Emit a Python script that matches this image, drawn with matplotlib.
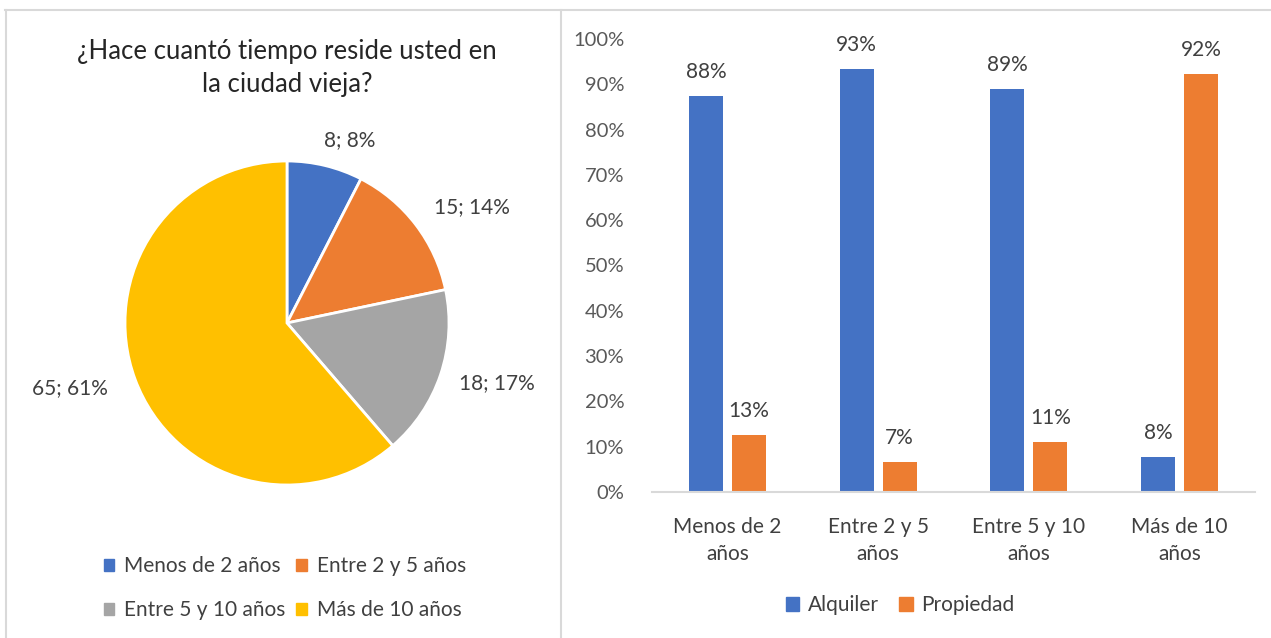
import matplotlib
matplotlib.use("Agg")
import matplotlib.pyplot as plt
from matplotlib.lines import Line2D
from matplotlib.patches import Patch
import numpy as np

plt.rcParams['font.family'] = ['Lato', 'DejaVu Sans']

# ---- data ----
pie_title = "¿Hace cuantó tiempo reside usted en\nla ciudad vieja?"
pie_labels = ["Menos de 2 años", "Entre 2 y 5 años", "Entre 5 y 10 años", "Más de 10 años"]
pie_counts = [8, 15, 18, 65]
pie_pcts = [8, 14, 17, 61]
pie_colors = ["#4472C4", "#ED7D31", "#A5A5A5", "#FFC000"]

bar_categories = ["Menos de 2\naños", "Entre 2 y 5\naños", "Entre 5 y 10\naños", "Más de 10\naños"]
alquiler = [0.875, 0.933, 0.889, 0.077]
propiedad = [0.125, 0.067, 0.111, 0.923]
series_names = ["Alquiler", "Propiedad"]
series_colors = ["#4472C4", "#ED7D31"]
yticks = [0, 0.1, 0.2, 0.3, 0.4, 0.5, 0.6, 0.7, 0.8, 0.9, 1.0]

W, H = 1271, 638
fig = plt.figure(figsize=(W / 100, H / 100), dpi=100)
fig.patch.set_facecolor("white")

def px_axes(x0, y0, x1, y1):
    return fig.add_axes([x0 / W, 1 - y1 / H, (x1 - x0) / W, (y1 - y0) / H])

# panel borders
border = "#D9D9D9"
fig.add_artist(Line2D([5 / W, 1], [1 - 10 / H] * 2, color=border, lw=1.5, transform=fig.transFigure))
fig.add_artist(Line2D([6 / W] * 2, [0, 1 - 10 / H], color=border, lw=1.5, transform=fig.transFigure))
fig.add_artist(Line2D([561 / W] * 2, [0, 1 - 10 / H], color=border, lw=1.5, transform=fig.transFigure))

# ---- pie ----
cx, cy, r = 287, 323, 162
half = 210
axp = px_axes(cx - half, cy - half, cx + half, cy + half)
wedges, _ = axp.pie(pie_counts, colors=pie_colors, startangle=90, counterclock=False,
                    radius=1.0, wedgeprops=dict(edgecolor="white", linewidth=2))
lim = half / r
axp.set_xlim(-lim, lim)
axp.set_ylim(-lim, lim)
axp.set_aspect("equal")
axp.axis("off")

# pie data labels (outside end)
label_pos_px = [(350, 140), (472, 207), (497, 383), (70, 388)]
for (lx, ly), c, p in zip(label_pos_px, pie_counts, pie_pcts):
    fig.text(lx / W, 1 - ly / H, f"{c}; {p}%", ha="center", va="center",
             fontsize=15, color="#404040")

fig.text(287 / W, 1 - 68 / H, pie_title, ha="center", va="center", fontsize=18.5,
         color="#262626", linespacing=1.38)

order = [0, 2, 1, 3]
handles = [Patch(color=pie_colors[i], label=pie_labels[i]) for i in order]
fig.legend(handles=handles, loc="center", bbox_to_anchor=(285 / W, 1 - 588 / H), ncol=2,
           frameon=False, fontsize=15, handlelength=0.5, handleheight=0.5, handletextpad=0.5,
           columnspacing=0.5, labelspacing=1.15, labelcolor="#404040")

# ---- bars ----
axb = px_axes(652, 39, 1255, 492)
x = np.arange(len(bar_categories))
bw = 0.2255
off = 0.1426
b1 = axb.bar(x - off, alquiler, bw, color=series_colors[0], label=series_names[0])
b2 = axb.bar(x + off, propiedad, bw, color=series_colors[1], label=series_names[1])
for bars, vals in ((b1, alquiler), (b2, propiedad)):
    for rect, v in zip(bars, vals):
        axb.annotate(f"{int(v * 100 + 0.5)}%", (rect.get_x() + rect.get_width() / 2, v),
                     xytext=(0, 10), textcoords="offset points", ha="center", va="bottom",
                     fontsize=15, color="#404040")
axb.set_xlim(-0.5, len(bar_categories) - 0.5)
axb.set_ylim(0, 1.0)
axb.set_yticks(yticks)
axb.set_yticklabels([f"{int(round(t * 100))}%" for t in yticks], fontsize=14.5, color="#595959")
axb.set_xticks(x)
axb.set_xticklabels(bar_categories, fontsize=15, color="#404040", linespacing=1.45)
axb.tick_params(axis="x", length=0, pad=18)
axb.tick_params(axis="y", length=0, pad=20)
for s in ("top", "right", "left"):
    axb.spines[s].set_visible(False)
axb.spines["bottom"].set_color("#D9D9D9")
axb.spines["bottom"].set_linewidth(1.5)
axb.set_facecolor("none")

fig.legend(handles=[Patch(color=c, label=l) for c, l in zip(series_colors, series_names)],
           loc="center", bbox_to_anchor=(900 / W, 1 - 605 / H), ncol=2, frameon=False,
           fontsize=15, handlelength=0.65, handleheight=0.65, handletextpad=0.4,
           columnspacing=1.0, labelcolor="#404040")

fig.savefig("out.png", dpi=100, facecolor="white")
